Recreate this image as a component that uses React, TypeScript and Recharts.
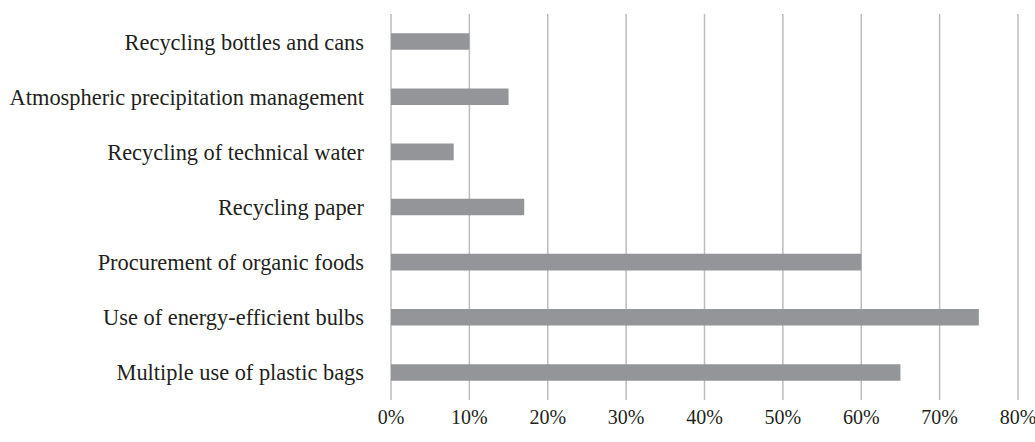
import { BarChart, Bar, XAxis, YAxis, CartesianGrid } from 'recharts';

document.body.style.margin = '0';

const categories = [
  'Recycling bottles and cans',
  'Atmospheric precipitation management',
  'Recycling of technical water',
  'Recycling paper',
  'Procurement of organic foods',
  'Use of energy-efficient bulbs',
  'Multiple use of plastic bags',
];
const shares = [10, 15, 8, 17, 60, 75, 65];
const xTicks = [0, 10, 20, 30, 40, 50, 60, 70, 80];

const data = categories.map((name, i) => ({ name, value: shares[i] }));

const font = '"Liberation Serif", serif';

export default function App() {
  return (
    <div style={{ width: 1035, height: 442, background: '#fff' }}>
      <BarChart
        width={1035}
        height={442}
        data={data}
        layout="vertical"
        margin={{ top: 14, right: 17, bottom: 0, left: 0 }}
        barCategoryGap="65%"
      >
        <CartesianGrid horizontal={false} vertical stroke="#bcbcbc" strokeWidth={1.5} />
        <XAxis
          type="number"
          domain={[0, 80]}
          ticks={xTicks}
          tickFormatter={(v) => `${v}%`}
          axisLine={false}
          tickLine={false}
          tickSize={0}
          tickMargin={10}
          height={42}
          tick={{ fill: '#231f20', fontSize: 20, fontFamily: font }}
          interval={0}
        />
        <YAxis
          type="category"
          dataKey="name"
          width={391}
          axisLine={false}
          tickLine={false}
          tickSize={0}
          tickMargin={27}
          tick={{ fill: '#231f20', fontSize: 22.4, fontFamily: font }}
          interval={0}
        />
        <Bar dataKey="value" fill="#939598" isAnimationActive={false} />
      </BarChart>
    </div>
  );
}
